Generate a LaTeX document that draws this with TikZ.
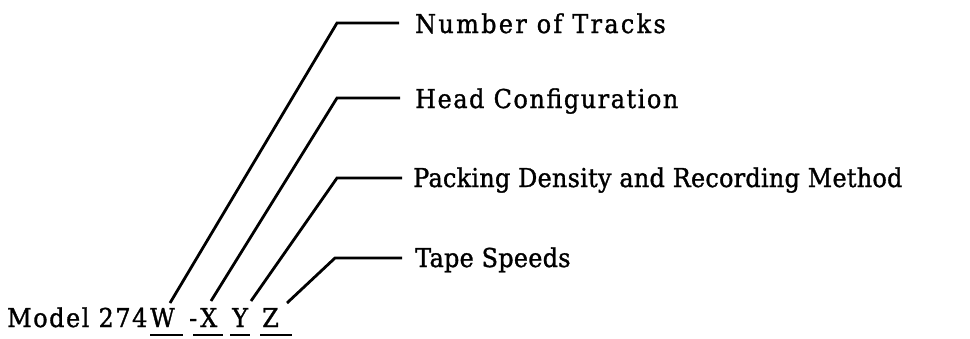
\documentclass[tikz,border=0pt]{standalone}
\usepackage{fontspec}
\setmainfont{DejaVu Serif}[FakeStretch=0.92,FakeBold=1.2]
\begin{document}
\begin{tikzpicture}[x=1pt,y=-1pt,
  lbl/.style={anchor=base west,inner sep=0pt,font=\fontsize{26}{30}\selectfont\addfontfeature{LetterSpace=#1}},
  lbl/.default=0,
  conn/.style={line width=2.8pt,line join=miter},
  uline/.style={line width=2.2pt}]
\useasboundingbox (0,0) rectangle (970,338);
% model code
\node[lbl=6] (model) at (7,327) {Model 274};
\node[lbl] (w) at (150,327) {W};
\node[lbl] (dash) at (189,327) {-};
\node[lbl] (x) at (200,327) {X};
\node[lbl] (y) at (232,327) {Y};
\node[lbl] (z) at (262,327) {Z};
% labels
\node[lbl=9] (tracks) at (415,33) {Number of Tracks};
\node[lbl=6] (head) at (415,108) {Head Configuration};
\node[lbl=1] (pack) at (413,187) {Packing Density and Recording Method};
\node[lbl=1] (speed) at (415,267) {Tape Speeds};
% connector points
\coordinate (wt) at (170,303);
\coordinate (xt) at (211,301);
\coordinate (yt) at (251,301);
\coordinate (zt) at (287,303);
\coordinate (wb) at (337,23);
\coordinate (xb) at (337,98);
\coordinate (yb) at (337,178);
\coordinate (zb) at (335,258);
\coordinate (we) at (399,23);
\coordinate (xe) at (400,98);
\coordinate (ye) at (402,178);
\coordinate (ze) at (402,258);
\draw[conn] (wt) -- (wb) -- (we);
\draw[conn] (xt) -- (xb) -- (xe);
\draw[conn] (yt) -- (yb) -- (ye);
\draw[conn] (zt) -- (zb) -- (ze);
% underlines
\draw[uline] (150,335) -- (183,335);
\draw[uline] (193,335) -- (223,335);
\draw[uline] (230,335) -- (250,335);
\draw[uline] (260,335) -- (292,335);
\end{tikzpicture}
\end{document}
